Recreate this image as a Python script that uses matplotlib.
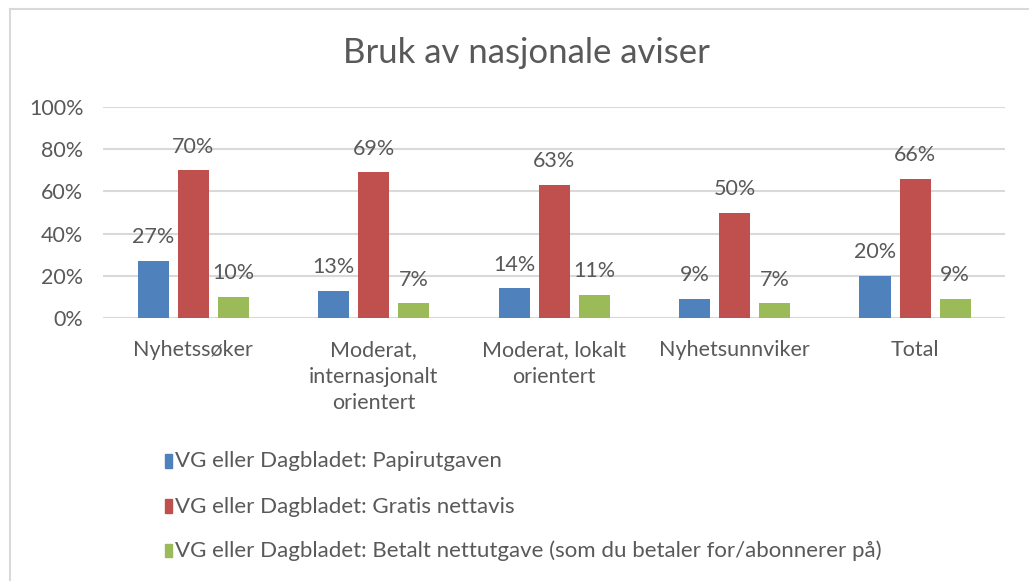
import numpy as np
import matplotlib.pyplot as plt
from matplotlib.lines import Line2D

kategorier = ["Nyhetssøker", "Moderat,\ninternasjonalt\norientert", "Moderat, lokalt\norientert",
              "Nyhetsunnviker", "Total"]
serier = ["VG eller Dagbladet: Papirutgaven",
          "VG eller Dagbladet: Gratis nettavis",
          "VG eller Dagbladet: Betalt nettutgave (som du betaler for/abonnerer på)"]
papir = [27, 13, 14, 9, 20]
gratis = [70, 69, 63, 50, 66]
betalt = [10, 7, 11, 7, 9]
farger = ["#4F81BD", "#C0504D", "#9BBB59"]

tekst = "#595959"
plt.rcParams['font.family'] = ['Lato', 'DejaVu Sans']

fig = plt.figure(figsize=(10.29, 5.81), dpi=100)
ax = fig.add_axes([0.100, 0.4527, 0.877, 0.3631])

x = np.arange(len(kategorier))
bredde = 0.172
avstand = 0.222
for i, (verdier, farge) in enumerate(zip([papir, gratis, betalt], farger)):
    pos = x + (i - 1) * avstand
    ax.bar(pos, verdier, width=bredde, color=farge, label=serier[i], zorder=3)
    for p, v in zip(pos, verdier):
        ax.text(p, v + 6.5, f"{v}%", ha='center', va='bottom', fontsize=15.5, color=tekst)

ax.set_xlim(-0.5, len(kategorier) - 0.5)
ax.set_ylim(0, 100)
ax.set_yticks(range(0, 101, 20))
ax.set_yticklabels([f"{t}%" for t in range(0, 101, 20)])
ax.set_xticks(x)
ax.set_xticklabels(kategorier, linespacing=1.4)
ax.tick_params(axis='both', length=0, labelsize=15.5, colors=tekst)
ax.tick_params(axis='x', pad=16)
ax.tick_params(axis='y', pad=14)
ax.grid(axis='y', color="#D9D9D9", linewidth=1.5, zorder=0)
for s in ax.spines.values():
    s.set_visible(False)

fig.text(0.512, 0.908, "Bruk av nasjonale aviser", ha='center', va='center', fontsize=25, color=tekst)

# legende, en rad per serie
rader = [0.206, 0.128, 0.052]
for navn, farge, y in zip(serier, farger, rader):
    fig.patches.append(plt.Rectangle((0.1600, y - 0.0115), 0.0068, 0.024, transform=fig.transFigure,
                                     color=farge, figure=fig))
    fig.text(0.1700, y, navn, ha='left', va='center', fontsize=16, color=tekst)

# ramme rundt diagrammet
fig.add_artist(Line2D([10 / 1029, 10 / 1029], [0, 1 - 9 / 581], color="#D9D9D9", linewidth=1.5))
fig.add_artist(Line2D([10 / 1029, 1], [1 - 9 / 581, 1 - 9 / 581], color="#D9D9D9", linewidth=1.5))

fig.savefig("out.png", dpi=100, facecolor="white")
